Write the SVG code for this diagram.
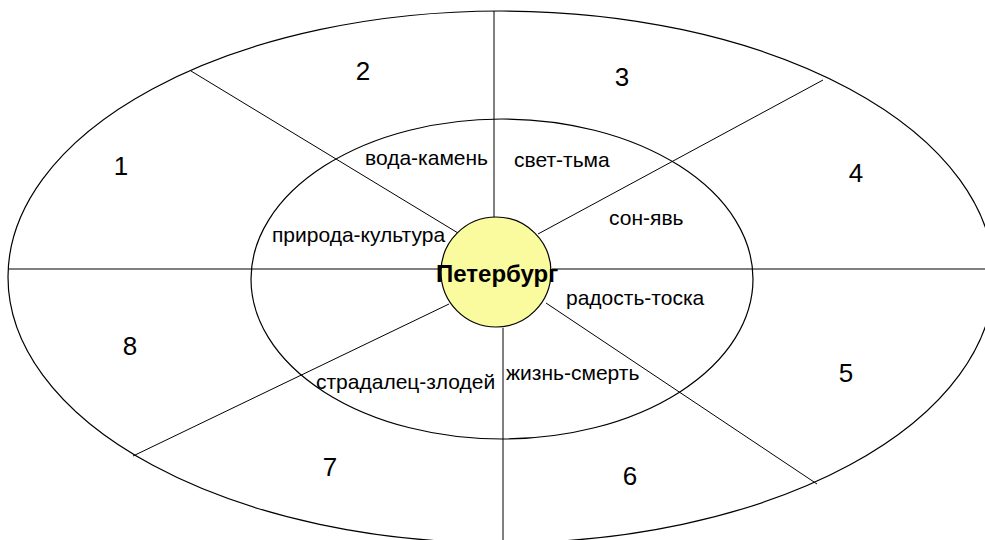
<svg xmlns="http://www.w3.org/2000/svg" width="985" height="540" viewBox="0 0 985 540">
<style>
.ln{stroke:#000;stroke-width:1;fill:none}
.el{stroke:#000;stroke-width:1.2;fill:none}
.lbl{font-family:"Liberation Sans",Arial,sans-serif;font-size:21px;fill:#000}
.num{font-family:"Liberation Sans",Arial,sans-serif;font-size:26px;fill:#000;text-anchor:middle}
.ctr{font-family:"Liberation Sans",Arial,sans-serif;font-size:24px;font-weight:bold;fill:#000}
</style>
<rect width="985" height="540" fill="#fff"/>
<g id="outer-ring"><ellipse class="el" cx="501" cy="277" rx="493" ry="266"/></g>
<g id="inner-ring"><ellipse class="el" cx="502" cy="279" rx="251" ry="160"/></g>
<g id="connectors">
<line class="ln" x1="9" y1="269" x2="442" y2="269"/>
<line class="ln" x1="552" y1="269" x2="985" y2="269"/>
<line class="ln" x1="494" y1="11" x2="494" y2="217"/>
<line class="ln" x1="503" y1="328" x2="503" y2="540"/>
<line class="ln" x1="191" y1="71" x2="458" y2="233"/>
<line class="ln" x1="823" y1="80" x2="538" y2="234"/>
<line class="ln" x1="133" y1="456" x2="449" y2="304"/>
<line class="ln" x1="546" y1="303" x2="817" y2="484"/>
</g>
<g id="center"><circle cx="496" cy="272" r="55" fill="#FAFA9E" stroke="#000" stroke-width="1.2"/><text class="ctr" x="436" y="282">Петербург</text></g>
<g id="pair-1"><text class="lbl" x="365" y="165">вода-камень</text></g>
<g id="pair-2"><text class="lbl" x="514" y="167">свет-тьма</text></g>
<g id="pair-3"><text class="lbl" x="609" y="225">сон-явь</text></g>
<g id="pair-4"><text class="lbl" x="272" y="242">природа-культура</text></g>
<g id="pair-5"><text class="lbl" x="566" y="305">радость-тоска</text></g>
<g id="pair-6"><text class="lbl" x="506" y="380">жизнь-смерть</text></g>
<g id="pair-7"><text class="lbl" x="316" y="389">страдалец-злодей</text></g>
<g id="sector-1"><text class="num" x="121" y="175">1</text></g>
<g id="sector-2"><text class="num" x="363" y="80">2</text></g>
<g id="sector-3"><text class="num" x="622" y="86">3</text></g>
<g id="sector-4"><text class="num" x="856" y="182">4</text></g>
<g id="sector-5"><text class="num" x="846" y="382">5</text></g>
<g id="sector-6"><text class="num" x="630" y="485">6</text></g>
<g id="sector-7"><text class="num" x="330" y="476">7</text></g>
<g id="sector-8"><text class="num" x="130" y="355">8</text></g>
</svg>
